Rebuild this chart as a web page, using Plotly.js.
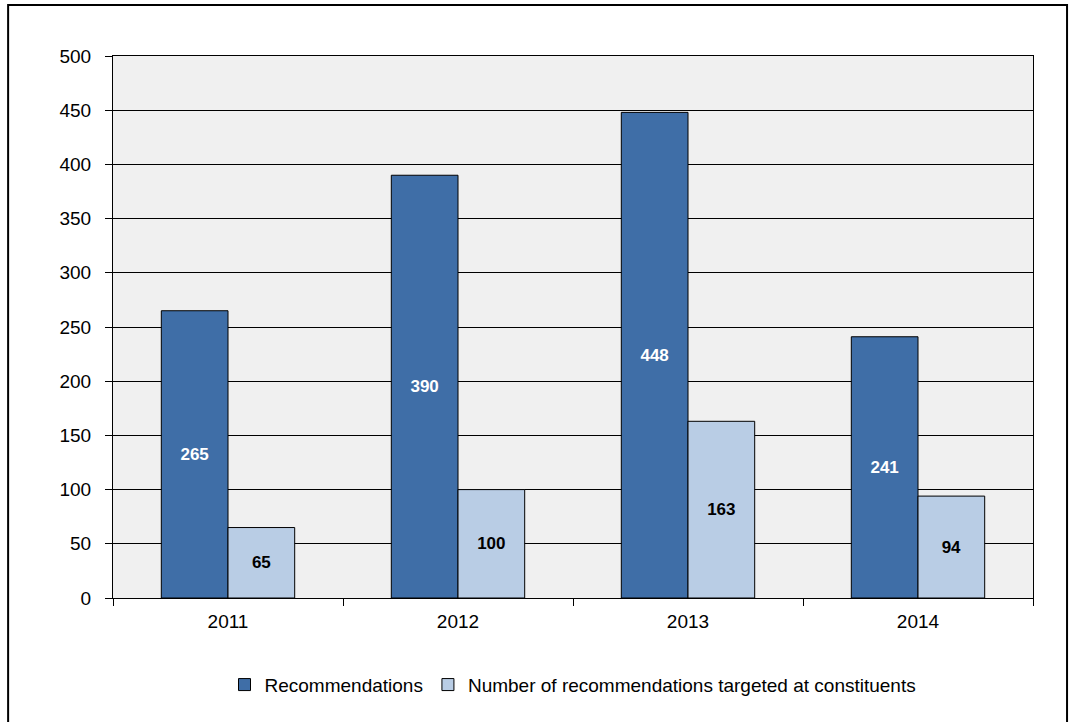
<!DOCTYPE html>
<html>
<head>
<meta charset="utf-8">
<script src="https://cdn.plot.ly/plotly-3.0.1.min.js"></script>
<style>html,body{margin:0;padding:0;background:#fff;}#chart{width:1077px;height:722px;}</style>
</head>
<body>
<div id="chart"></div>
<script>
const years = ['2011', '2012', '2013', '2014'];
const recommendations = [265, 390, 448, 241];
const targeted = [65, 100, 163, 94];
const seriesNames = ['Recommendations', 'Number of recommendations targeted at constituents'];
const yTicks = [0, 50, 100, 150, 200, 250, 300, 350, 400, 450, 500];

const font = 'Liberation Sans, Arial, sans-serif';
const traces = [
  {
    type: 'bar', name: seriesNames[0], x: years, y: recommendations,
    marker: {color: '#3f6ea7', line: {color: '#000', width: 1}},
    text: recommendations.map(String), textposition: 'inside', insidetextanchor: 'middle',
    textangle: 0, constraintext: 'none',
    textfont: {family: font, size: 17, color: '#ffffff', weight: 'bold'},
    hoverinfo: 'none'
  },
  {
    type: 'bar', name: seriesNames[1], x: years, y: targeted,
    marker: {color: '#b9cde5', line: {color: '#000', width: 1}},
    text: targeted.map(String), textposition: 'inside', insidetextanchor: 'middle',
    textangle: 0, constraintext: 'none',
    textfont: {family: font, size: 17, color: '#000000', weight: 'bold'},
    hoverinfo: 'none'
  }
];

const layout = {
  width: 1077, height: 722,
  margin: {l: 113, r: 44, t: 56, b: 124},
  paper_bgcolor: '#ffffff', plot_bgcolor: '#f0f0f0',
  font: {family: font, size: 19, color: '#000'},
  barmode: 'group', bargap: 0.42, bargroupgap: 0,
  showlegend: true,
  legend: {orientation: 'h', x: 0.5, xanchor: 'center', y: -0.16, yanchor: 'middle',
           font: {family: font, size: 19, color: '#000'}, itemwidth: 30},
  xaxis: {
    type: 'category', showline: true, linecolor: '#000', linewidth: 1, mirror: true,
    ticks: 'outside', tickson: 'boundaries', ticklen: 7, tickcolor: '#000',
    ticklabelstandoff: 6,
    showgrid: false, tickfont: {family: font, size: 19, color: '#000'}
  },
  yaxis: {
    range: [0, 500], tickvals: yTicks, ticktext: yTicks.map(String),
    showline: true, linecolor: '#000', linewidth: 1, mirror: true,
    ticks: 'outside', ticklen: 7, tickcolor: '#000',
    ticklabelstandoff: 10,
    showgrid: true, gridcolor: '#000', gridwidth: 1, zeroline: false,
    tickfont: {family: font, size: 19, color: '#000'}
  },
  shapes: [
    {type: 'rect', xref: 'paper', yref: 'paper', x0: -0.114, x1: 1.037, y0: -0.35, y1: 1.094,
     line: {color: '#000', width: 2}, fillcolor: 'rgba(0,0,0,0)', layer: 'below'}
  ]
};

Plotly.newPlot('chart', traces, layout, {displayModeBar: false, staticPlot: true});
</script>
</body>
</html>
